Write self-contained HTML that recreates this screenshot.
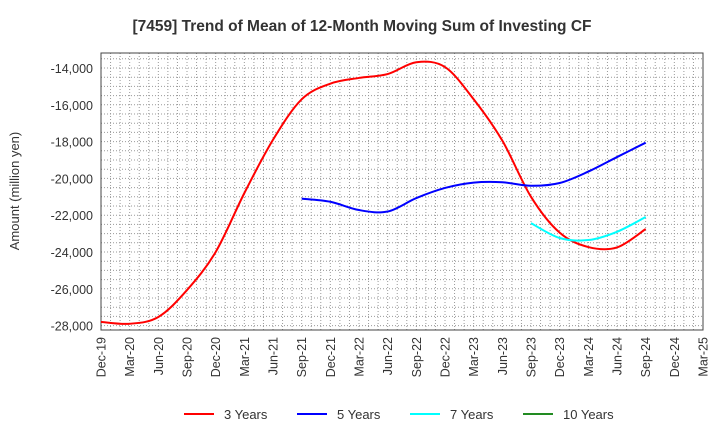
<!DOCTYPE html>
<html><head><meta charset="utf-8"><style>
body{margin:0;background:#fff;font-family:"Liberation Sans",sans-serif;}
</style></head><body>
<svg id="chart" width="720" height="440" xmlns="http://www.w3.org/2000/svg" font-family="Liberation Sans, sans-serif">
<text x="362" y="31" text-anchor="middle" font-size="15.5" font-weight="bold" fill="#333">[7459]  Trend of Mean of 12-Month Moving Sum of Investing CF</text>
<rect x="101" y="53" width="602" height="277" fill="#fff"/>
<g id="grid"></g>
<rect x="101" y="53" width="602" height="277" fill="none" stroke="#444" stroke-width="1"/>
<g id="yt"></g><g id="xt"></g><g id="series"></g>
<text transform="translate(19,191) rotate(-90)" text-anchor="middle" font-size="13" fill="#333">Amount (million yen)</text>
<g id="legend"></g>
</svg>
<script>
const xLabels=["Dec-19","Mar-20","Jun-20","Sep-20","Dec-20","Mar-21","Jun-21","Sep-21","Dec-21","Mar-22","Jun-22","Sep-22","Dec-22","Mar-23","Jun-23","Sep-23","Dec-23","Mar-24","Jun-24","Sep-24","Dec-24","Mar-25"];
const yTicks=[-14000,-16000,-18000,-20000,-22000,-24000,-26000,-28000];
const s3=[-27800,-27900,-27530,-26070,-24000,-20800,-17900,-15700,-14850,-14540,-14330,-13690,-13950,-15700,-17950,-21000,-22950,-23730,-23750,-22750];
const s5=[null,null,null,null,null,null,null,-21100,-21270,-21720,-21800,-21070,-20520,-20230,-20210,-20400,-20250,-19630,-18840,-18060];
const s7=[null,null,null,null,null,null,null,null,null,null,null,null,null,null,null,-22430,-23240,-23350,-22900,-22100];
const s10=[];
const names=["3 Years","5 Years","7 Years","10 Years"];
const colors=["#ff0000","#0000ff","#00ffff","#228b22"];
const X0=101,X1=703,Y0=53,Y1=330;
const xs=i=>X0+i*(X1-X0)/(xLabels.length-1);
const ys=v=>68+(-14000-v)/2000*36.8;
const NS="http://www.w3.org/2000/svg";
function mk(t,a,p){const e=document.createElementNS(NS,t);for(const k in a)e.setAttribute(k,a[k]);p.appendChild(e);return e;}
const grid=document.getElementById('grid');
for(let m=0;m<=(xLabels.length-1)*3;m++){const x=X0+m*(X1-X0)/((xLabels.length-1)*3);
const l=mk('line',{x1:x,x2:x,y1:Y0,y2:Y1,stroke:'#999','stroke-width':1,'stroke-dasharray':'1,2'},grid);

}
for(let v=-13500;v>=-28500;v-=500){const y=ys(v);if(y<Y0||y>Y1)continue;
const l=mk('line',{x1:X0,x2:X1,y1:y,y2:y,stroke:'#999','stroke-width':1,'stroke-dasharray':'1,2'},grid);

}
const yt=document.getElementById('yt');
yTicks.forEach(v=>{const t=mk('text',{x:93,y:ys(v)+5,'text-anchor':'end','font-size':12.5,fill:'#333'},yt);t.textContent=v.toLocaleString('en-US');

});
const xt=document.getElementById('xt');
xLabels.forEach((s,i)=>{const x=xs(i);const t=mk('text',{transform:`translate(${x+4.5},337) rotate(-90)`,'text-anchor':'end','font-size':12.5,fill:'#333'},xt);t.textContent=s;

});
function path(arr){const p=[];arr.forEach((v,i)=>{if(v!=null)p.push([xs(i),ys(v)]);});if(p.length<2)return '';
let d=`M${p[0][0]},${p[0][1]}`;for(let i=0;i<p.length-1;i++){const a=p[i-1]||p[i],b=p[i],c=p[i+1],e=p[i+2]||c;
d+=` C${b[0]+(c[0]-a[0])/6},${b[1]+(c[1]-a[1])/6} ${c[0]-(e[0]-b[0])/6},${c[1]-(e[1]-b[1])/6} ${c[0]},${c[1]}`;}return d;}
const sg=document.getElementById('series');
[s3,s5,s7,s10].forEach((arr,k)=>{const d=path(arr);if(!d)return;const e=mk('path',{d:d,fill:'none',stroke:colors[k],'stroke-width':2,'stroke-linejoin':'round'},sg);

});
const lg=document.getElementById('legend');
const lx=[184,297,410,523];
names.forEach((n,k)=>{const g=mk('g',{},lg);


mk('line',{x1:lx[k],x2:lx[k]+30,y1:414,y2:414,stroke:colors[k],'stroke-width':2},g);
const t=mk('text',{x:lx[k]+40,y:419,'font-size':13,fill:'#333'},g);t.textContent=n;});
</script>
</body></html>
